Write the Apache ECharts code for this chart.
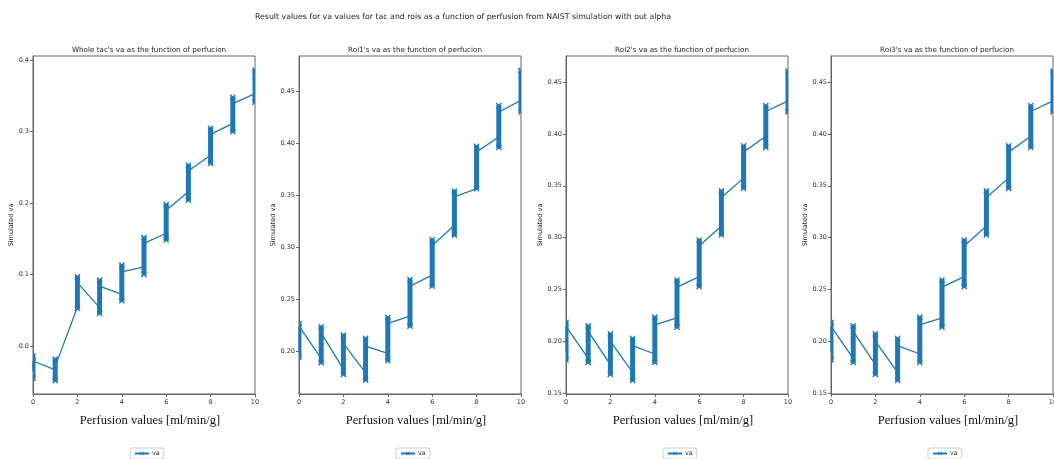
<!DOCTYPE html>
<html>
<head>
<meta charset="utf-8">
<script src="https://cdn.jsdelivr.net/npm/echarts@6/dist/echarts.min.js"></script>
<style>html,body{margin:0;padding:0;background:#fff}#c{width:1054px;height:459px}</style>
</head>
<body>
<div id="c"></div>
<script>
// ---------- data ----------
const perfusion = [0, 1, 2, 3, 4, 5, 6, 7, 8, 9, 10];
const xTicks = [0, 2, 4, 6, 8, 10];

const mainTitle = "Result values for va values for tac and rois as a function of perfusion from NAIST simulation with out alpha";
const plotTitles = [
  "Whole tac's va as the function of perfucion",
  "Roi1's va as the function of perfucion",
  "Roi2's va as the function of perfucion",
  "Roi3's va as the function of perfucion"
];
const xLabel = "Perfusion values [ml/min/g]";
const yLabel = "Simulated va";
const seriesName = "va";

// Whole tac: per perfusion value, first sample (entry), lowest, highest, last sample (exit)
const tacEntry = [-0.035, -0.033, 0.0545, 0.054, 0.0726, 0.111, 0.158, 0.216, 0.267, 0.3114, 0.353];
const tacLow   = [-0.0447, -0.048, 0.053, 0.046, 0.0637, 0.1005, 0.1485, 0.204, 0.2556, 0.2997, 0.341];
const tacHigh  = [-0.0135, -0.0177, 0.097, 0.0926, 0.1135, 0.152, 0.198, 0.253, 0.3045, 0.348, 0.386];
const tacExit  = [-0.0205, -0.028, 0.089, 0.084, 0.104, 0.1438, 0.19, 0.245, 0.296, 0.339, 0.353];

// Roi1
const roi1Entry = [0.200, 0.1933, 0.1827, 0.1794, 0.198, 0.234, 0.2734, 0.3214, 0.3567, 0.4063, 0.4416];
const roi1Low   = [0.1942, 0.189, 0.1779, 0.1724, 0.191, 0.2243, 0.2628, 0.3118, 0.3567, 0.3962, 0.4304];
const roi1High  = [0.2269, 0.2237, 0.2157, 0.2125, 0.2327, 0.2692, 0.3077, 0.3544, 0.3974, 0.4365, 0.4705];
const roi1Exit  = [0.2243, 0.2179, 0.2077, 0.2051, 0.2269, 0.2628, 0.302, 0.3487, 0.392, 0.4304, 0.4416];

// Roi2
const roi2Entry = [0.190, 0.1833, 0.1773, 0.1699, 0.1876, 0.2225, 0.2623, 0.3112, 0.3574, 0.3979, 0.4319];
const roi2Low   = [0.182, 0.1795, 0.1679, 0.1621, 0.1795, 0.2136, 0.2527, 0.3025, 0.3475, 0.387, 0.4213];
const roi2High  = [0.218, 0.2148, 0.2071, 0.2026, 0.2232, 0.2591, 0.2977, 0.3452, 0.3885, 0.4275, 0.4608];
const roi2Exit  = [0.2142, 0.2094, 0.1997, 0.1956, 0.2158, 0.2521, 0.2919, 0.3388, 0.3825, 0.4217, 0.4319];

// Roi3
const roi3Entry = [0.190, 0.1833, 0.1773, 0.1699, 0.1876, 0.2225, 0.2623, 0.3112, 0.3574, 0.3979, 0.4319];
const roi3Low   = [0.182, 0.1795, 0.1679, 0.1621, 0.1795, 0.2136, 0.2527, 0.3025, 0.3475, 0.387, 0.4213];
const roi3High  = [0.218, 0.2148, 0.2071, 0.2026, 0.2232, 0.2591, 0.2977, 0.3452, 0.3885, 0.4275, 0.4608];
const roi3Exit  = [0.2142, 0.2094, 0.1997, 0.1956, 0.2158, 0.2521, 0.2919, 0.3388, 0.3825, 0.4217, 0.4319];

const yTicksTac = [0.0, 0.1, 0.2, 0.3, 0.4];
const yTicksRoi1 = [0.20, 0.25, 0.30, 0.35, 0.40, 0.45];
const yTicksRoi23 = [0.15, 0.20, 0.25, 0.30, 0.35, 0.40, 0.45];
const yRanges = [[-0.0666, 0.4056], [0.159, 0.4843], [0.149, 0.4753], [0.149, 0.4753]];
const yDecimals = [1, 2, 2, 2];

// ---------- chart ----------
const panels = [
  {entry: tacEntry, low: tacLow, high: tacHigh, exit: tacExit, ticks: yTicksTac},
  {entry: roi1Entry, low: roi1Low, high: roi1High, exit: roi1Exit, ticks: yTicksRoi1},
  {entry: roi2Entry, low: roi2Low, high: roi2High, exit: roi2Exit, ticks: yTicksRoi23},
  {entry: roi3Entry, low: roi3Low, high: roi3High, exit: roi3Exit, ticks: yTicksRoi23}
];
const gridLefts = [33, 299, 566, 831];
const gridWidth = 222;
const gridTop = 56, gridHeight = 338;
const nameGaps = [17, 21, 21, 20];
const color = '#1f77b4';
const xPath = 'path://M0,1 L1,0 L5,4 L9,0 L10,1 L6,5 L10,9 L9,10 L5,6 L1,10 L0,9 L4,5 Z';

const grids = [], xAxes = [], yAxes = [], series = [], titles = [], legends = [];
titles.push({text: mainTitle, left: 458, top: 8, textAlign: 'center',
  textStyle: {fontFamily: 'DejaVu Sans', fontSize: 7.8, fontWeight: 'normal', color: '#222'}});

panels.forEach((p, i) => {
  const left = gridLefts[i];
  const cx = left + gridWidth / 2;
  grids.push({left: left, top: gridTop, width: gridWidth, height: gridHeight, containLabel: false,
    outerBoundsMode: 'none',
    show: true, borderColor: '#666', borderWidth: 1});
  titles.push({text: plotTitles[i], left: cx, top: 42, textAlign: 'center',
    textStyle: {fontFamily: 'DejaVu Sans', fontSize: 7.2, fontWeight: 'normal', color: '#222'}});
  xAxes.push({type: 'value', gridIndex: i, min: 0, max: 10, interval: 2,
    name: xLabel, nameLocation: 'middle', nameGap: 20,
    nameTextStyle: {fontFamily: 'Liberation Serif', fontSize: 12.5, color: '#111', padding: [0, 0, 0, 12]},
    axisLine: {onZero: false, lineStyle: {color: '#666'}},
    axisTick: {inside: false, length: 3, lineStyle: {color: '#666'}},
    axisLabel: {fontFamily: 'DejaVu Sans', fontSize: 6.5, color: '#333', margin: 5,
      formatter: v => xTicks.includes(v) ? String(v) : ''},
    splitLine: {show: false}});
  yAxes.push({type: 'value', gridIndex: i, min: yRanges[i][0], max: yRanges[i][1],
    name: yLabel, nameLocation: 'middle', nameGap: nameGaps[i],
    nameTextStyle: {fontFamily: 'DejaVu Sans', fontSize: 6.5, color: '#222'},
    axisLine: {show: true, onZero: false, lineStyle: {color: '#666'}},
    axisTick: {show: true, length: 3, lineStyle: {color: '#666'}, customValues: p.ticks},
    axisLabel: {fontFamily: 'DejaVu Sans', fontSize: 6.5, color: '#333', margin: 4,
      customValues: p.ticks, formatter: v => Number(v).toFixed(yDecimals[i])},
    splitLine: {show: false}});

  const lineData = [];
  const colData = [];
  perfusion.forEach((x, k) => {
    lineData.push([x, p.entry[k]]);
    lineData.push([x, p.exit[k]]);
    colData.push([x, p.low[k], p.high[k]]);
  });

  series.push({name: seriesName, type: 'line', xAxisIndex: i, yAxisIndex: i, data: lineData,
    symbol: xPath, symbolSize: 5, showSymbol: false, clip: true,
    lineStyle: {color: color, width: 1.3}, itemStyle: {color: color}, animation: false, z: 2});

  series.push({name: 'samples' + i, type: 'custom', xAxisIndex: i, yAxisIndex: i, data: colData,
    clip: true, animation: false, z: 3,
    encode: {x: 0, y: [1, 2]},
    renderItem: function (params, api) {
      const x = api.value(0), lo = api.value(1), hi = api.value(2);
      const a = api.coord([x, lo]), b = api.coord([x, hi]);
      const s = 2.6;
      const mk = (pt) => [
        {type: 'line', shape: {x1: pt[0] - s, y1: pt[1] - s, x2: pt[0] + s, y2: pt[1] + s}, style: {stroke: color, lineWidth: 1.3}},
        {type: 'line', shape: {x1: pt[0] - s, y1: pt[1] + s, x2: pt[0] + s, y2: pt[1] - s}, style: {stroke: color, lineWidth: 1.3}}
      ];
      return {type: 'group', children: [
        {type: 'line', shape: {x1: a[0], y1: a[1] + 1, x2: b[0], y2: b[1] - 1}, style: {stroke: color, lineWidth: 5}},
        ...mk(a), ...mk(b)
      ]};
    }});

  legends.push({data: [seriesName], left: cx - 14, top: 448, orient: 'horizontal',
    itemWidth: 14, itemHeight: 5, itemGap: 4, padding: [2, 4, 2, 4],
    borderColor: '#ccc', borderWidth: 1, borderRadius: 2,
    textStyle: {fontFamily: 'DejaVu Sans', fontSize: 6.5, color: '#333', padding: [0, 0, 0, -2]},
    selectedMode: false});
});

const chart = echarts.init(document.getElementById('c'), null, {renderer: 'canvas'});
chart.setOption({
  backgroundColor: '#fff',
  animation: false,
  title: titles,
  grid: grids,
  xAxis: xAxes,
  yAxis: yAxes,
  legend: legends,
  series: series
});
</script>
</body>
</html>
